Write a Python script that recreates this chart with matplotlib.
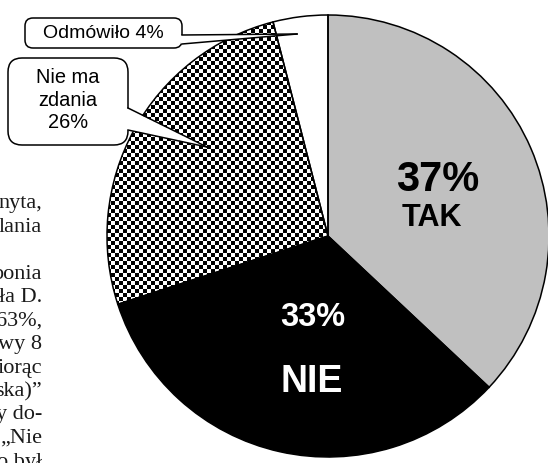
import numpy as np
import matplotlib
matplotlib.use("Agg")
import matplotlib.pyplot as plt
from matplotlib.patches import FancyBboxPatch, Polygon

# answers, clockwise from the top
answers = ["TAK", "NIE", "Nie ma zdania", "Odmówiło"]
shares = [37, 33, 26, 4]
slice_colors = ["#c0c0c0", "#000000", "#ffffff", "#ffffff"]

# fragment of the article text cut off on the left edge
body_lines = ["nyta,", "lania", "", "ponia", "ła D.", "63%,", "wy 8",
              "iorąc", "ska)”", "y do-", "„Nie", "o był"]

W, H = 548, 463
fig = plt.figure(figsize=(W / 100, H / 100), dpi=100)
ax = fig.add_axes([0, 0, 1, 1])

cx, cy, r = 328, H - 236, 221

wedges, _ = ax.pie(shares, startangle=90, counterclock=False, center=(cx, cy),
                   radius=r, colors=slice_colors,
                   wedgeprops=dict(linewidth=0, zorder=1))

# checkerboard fill for "Nie ma zdania"
cell = 4
n = int(np.ceil(2 * r / cell)) + 2
checker = np.indices((n, n)).sum(axis=0) % 2
x0, y0 = cx - r - cell, cy - r - cell
im = ax.imshow(checker, cmap="gray", vmin=0, vmax=1, interpolation="nearest",
               extent=(x0, x0 + n * cell, y0, y0 + n * cell), zorder=2)
im.set_clip_path(wedges[2])

# outlines on top
outline, _ = ax.pie(shares, startangle=90, counterclock=False, center=(cx, cy),
                    radius=r, colors=["none"] * 4,
                    wedgeprops=dict(edgecolor="black", linewidth=1.1, zorder=3))

# slice labels
ax.text(438, H - 180, f"{shares[0]}%", fontsize=30, fontweight="bold",
        family="Liberation Sans", ha="center", va="center", zorder=5)
ax.text(432, H - 218, answers[0], fontsize=22, fontweight="bold",
        family="Liberation Sans", ha="center", va="center", zorder=5)
ax.text(313, H - 318, f"{shares[1]}%", fontsize=23.5, fontweight="bold",
        family="Liberation Sans", ha="center", va="center", color="white", zorder=5)
ax.text(312, H - 382, answers[1], fontsize=27, fontweight="bold",
        family="Liberation Sans", ha="center", va="center", color="white", zorder=5)


def callout(x, y0p, y1p, rounding, base_top, base_bot, tip):
    # box given in pixel rows (top-down), converted to data coords
    box = FancyBboxPatch((x[0], H - y1p), x[1] - x[0], y1p - y0p,
                         boxstyle=f"round,pad=0,rounding_size={rounding}",
                         facecolor="white", edgecolor="black", linewidth=1.1, zorder=6)
    ax.add_patch(box)
    pts = [(x[1] - 1.5, H - base_top), (tip[0], H - tip[1]), (x[1] - 1.5, H - base_bot)]
    ax.add_patch(Polygon(pts, closed=True, facecolor="white", edgecolor="none", zorder=7))
    ax.plot([x[1], tip[0]], [H - base_top, H - tip[1]], color="black", lw=1.1, zorder=8)
    ax.plot([x[1], tip[0]], [H - base_bot, H - tip[1]], color="black", lw=1.1, zorder=8)


callout((25, 182), 18, 48, 8, 35, 44, (297, 34))
ax.text(103, H - 33, f"{answers[3]} {shares[3]}%", fontsize=14,
        family="Liberation Sans", ha="center", va="center", zorder=9)

callout((8, 128), 58, 145, 14, 108, 130, (207, 147))
ax.text(68, H - 100, f"Nie ma\nzdania\n{shares[2]}%", fontsize=14.4,
        family="Liberation Sans", ha="center", va="center", linespacing=1.25, zorder=9)

# article text (baselines)
for i, line in enumerate(body_lines):
    ax.text(42, H - (208 + 23.5 * i), line, fontsize=16, family="Liberation Serif",
            ha="right", va="baseline", color="#1a1a1a", zorder=4)

ax.set_xlim(0, W)
ax.set_ylim(0, H)
ax.set_aspect("auto")
ax.axis("off")

fig.savefig("out.png", dpi=100)
